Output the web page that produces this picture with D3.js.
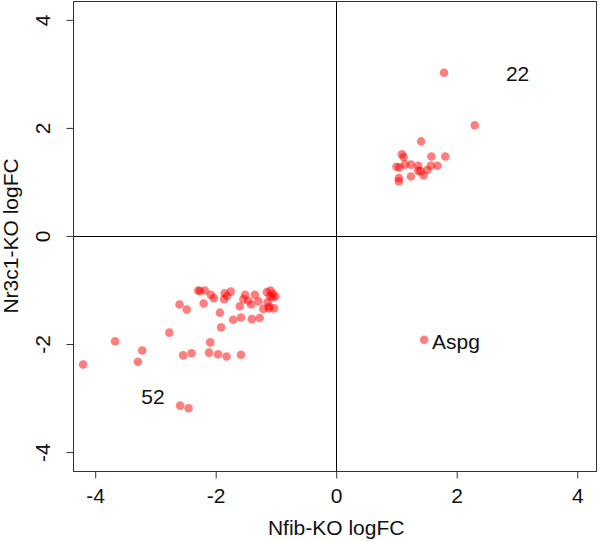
<!DOCTYPE html>
<html>
<head>
<meta charset="utf-8">
<script src="https://cdn.jsdelivr.net/npm/d3@7"></script>
<style>
  body { margin: 0; background: #fff; }
  svg { display: block; font-family: "Liberation Sans", Arial, sans-serif; }
</style>
</head>
<body>
<div id="chart"></div>
<script>
// logFC values
const nfibLogFC = [
  -2.29, -2.60, -2.48, -2.77, -3.67, -3.22, -2.54, -2.40, -4.20, -3.29, -2.59, -2.45,
  -2.26, -2.18, -2.08, -2.03, -2.20, -1.85, -1.75, -1.81, -1.86, -1.93, -1.91, -2.09,
  -2.11, -1.96, -1.82, -1.58, -1.51, -1.54, -1.60, -1.71, -1.58, -1.40, -1.27, -1.35,
  -1.41, -1.29, -1.21, -1.15, -1.09, -1.05, -1.10, -1.14, -1.11, -1.03, -1.12, -1.06,
  -1.01, -1.46,
  1.79, 2.30, 1.41, 1.09, 1.12, 1.00, 1.05, 1.14, 1.24, 1.36, 1.58, 1.81, 1.57, 1.68,
  1.51, 1.40, 1.45, 1.24, 1.04, 1.04, 1.36,
  1.46
];
const nr3c1LogFC = [
  -1.01, -1.27, -1.36, -1.79, -1.95, -2.12, -2.21, -2.17, -2.38, -2.33, -3.14, -3.19,
  -1.02, -1.01, -1.09, -1.15, -1.25, -1.06, -1.03, -1.11, -1.17, -1.42, -1.69, -1.97,
  -2.16, -2.19, -2.23, -2.20, -1.09, -1.17, -1.30, -1.55, -1.51, -1.54, -1.52, -1.09,
  -1.27, -1.21, -1.35, -1.04, -1.01, -1.07, -1.11, -1.23, -1.31, -1.34, -1.34, -1.14,
  -1.12, -1.20,
  3.02, 2.05, 1.75, 1.51, 1.46, 1.28, 1.27, 1.32, 1.32, 1.30, 1.47, 1.47, 1.30, 1.30,
  1.22, 1.20, 1.12, 1.10, 1.07, 1.01, 1.21,
  -1.92
];
const labelTexts = ["22", "52", "Aspg"];
const labelX = [3.01, -3.04, 1.59];
const labelY = [3.00, -2.98, -1.95];
const labelAnchor = ["middle", "middle", "start"];
const tickValues = [-4, -2, 0, 2, 4];

const W = 600, H = 541;
const box = { left: 73.5, right: 596.5, top: 1.5, bottom: 471.5 };
const fontSize = 21;

const svg = d3.select("#chart").append("svg")
  .attr("width", W)
  .attr("height", H);

const x = d3.scaleLinear().domain([-4.36, 4.32]).range([box.left, box.right]);
const y = d3.scaleLinear().domain([-4.36, 4.34]).range([box.bottom, box.top]);

// zero lines
svg.append("line")
  .attr("x1", box.left).attr("x2", box.right)
  .attr("y1", Math.round(y(0)) + 0.5).attr("y2", Math.round(y(0)) + 0.5)
  .attr("stroke", "#000").attr("stroke-width", 1);
svg.append("line")
  .attr("y1", box.top).attr("y2", box.bottom)
  .attr("x1", Math.round(x(0)) + 0.5).attr("x2", Math.round(x(0)) + 0.5)
  .attr("stroke", "#000").attr("stroke-width", 1);

// points
const pts = nfibLogFC.map((d, i) => ({ x: d, y: nr3c1LogFC[i] }));
svg.append("g")
  .selectAll("circle")
  .data(pts)
  .join("circle")
  .attr("cx", d => x(d.x))
  .attr("cy", d => y(d.y))
  .attr("r", 4.3)
  .attr("fill", "rgba(255,0,0,0.5)");

// labels
svg.append("g")
  .selectAll("text")
  .data(labelTexts)
  .join("text")
  .attr("x", (d, i) => x(labelX[i]))
  .attr("y", (d, i) => y(labelY[i]))
  .attr("dy", "0.35em")
  .attr("text-anchor", (d, i) => labelAnchor[i])
  .attr("font-size", fontSize)
  .attr("fill", "#111")
  .text(d => d);

// box
svg.append("rect")
  .attr("x", box.left).attr("y", box.top)
  .attr("width", box.right - box.left).attr("height", box.bottom - box.top)
  .attr("fill", "none").attr("stroke", "#333").attr("stroke-width", 1);

// axes (R style: hyphen minus)
const fmt = d => String(d);
const xAxis = d3.axisBottom(x).tickValues(tickValues).tickSize(7).tickFormat(fmt);
const gx = svg.append("g")
  .attr("transform", `translate(0,${box.bottom})`)
  .call(xAxis);
gx.select(".domain").remove();
gx.selectAll("line").attr("stroke", "#333");
gx.selectAll("text")
  .attr("font-size", fontSize).attr("fill", "#111")
  .attr("font-family", "Liberation Sans, Arial, sans-serif")
  .attr("y", 31.5).attr("dy", 0);

const yAxis = d3.axisLeft(y).tickValues(tickValues).tickSize(7).tickFormat(fmt);
const gy = svg.append("g")
  .attr("transform", `translate(${box.left},0)`)
  .call(yAxis);
gy.select(".domain").remove();
gy.selectAll("line").attr("stroke", "#333");
gy.selectAll("text")
  .attr("font-size", fontSize).attr("fill", "#111")
  .attr("font-family", "Liberation Sans, Arial, sans-serif")
  .attr("x", 0).attr("dy", 0)
  .attr("text-anchor", "middle")
  .attr("transform", `translate(${50 - box.left},0) rotate(-90)`);

// axis titles
svg.append("text")
  .attr("x", x(0)).attr("y", 535)
  .attr("text-anchor", "middle")
  .attr("font-size", fontSize).attr("fill", "#111")
  .text("Nfib-KO logFC");
svg.append("text")
  .attr("transform", `translate(18,${y(0)}) rotate(-90)`)
  .attr("text-anchor", "middle")
  .attr("font-size", fontSize).attr("fill", "#111")
  .text("Nr3c1-KO logFC");
</script>
</body>
</html>
